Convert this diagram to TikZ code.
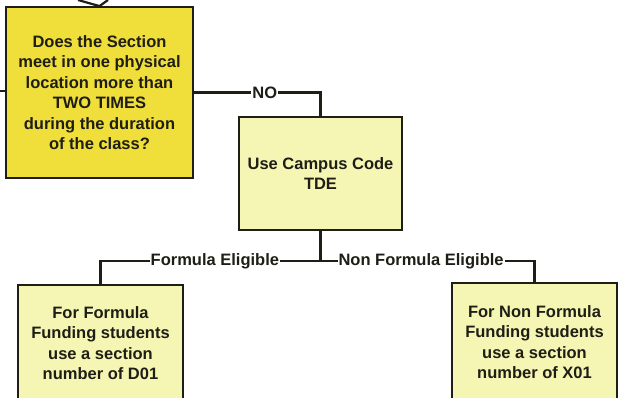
\documentclass[tikz,border=0pt]{standalone}
\usepackage{fontspec}
\setmainfont{Liberation Sans}
\definecolor{qyellow}{RGB}{240,222,58}
\definecolor{pale}{RGB}{246,246,180}
\definecolor{ink}{RGB}{30,30,22}
\tikzset{
  box/.style={draw=ink, line width=1.8pt, align=center, inner sep=2pt,
    font=\fontsize{16.5}{20.5}\selectfont\bfseries, text=ink},
  qbox/.style={box, fill=qyellow},
  abox/.style={box, fill=pale},
  conn/.style={draw=ink, line width=2.8pt},
  lbl/.style={fill=white, inner sep=1pt, font=\fontsize{16.5}{20}\selectfont\bfseries, text=ink}
}
\begin{document}
\begin{tikzpicture}[x=1pt,y=-1pt]
\useasboundingbox (0,0) rectangle (621,398);
\fill[white] (0,0) rectangle (621,398);
\begin{scope}
\clip (0,0) rectangle (621,398);
\node[qbox, minimum width=187pt, minimum height=171pt] (q) at (99.5,92.5)
  {Does the Section\\meet in one physical\\location more than\\TWO TIMES\\during the duration\\of the class?};
\node[abox, minimum width=163pt, minimum height=113pt] (tde) at (320.5,173.5)
  {Use Campus Code\\TDE};
\node[abox, minimum width=165pt, minimum height=116pt] (d01) at (100.5,343)
  {For Formula\\Funding students\\use a section\\number of D01};
\node[abox, minimum width=165pt, minimum height=118pt] (x01) at (534.5,342)
  {For Non Formula\\Funding students\\use a section\\number of X01};
\coordinate (inA) at (78,0);
\coordinate (inB) at (108,0);
\coordinate (lin) at (0,91);
\coordinate (split) at (320.5,261);
\draw[draw=ink, line width=2.2pt] (inA) -- (q.north) -- (inB);
\draw[conn] (lin) -- (lin -| q.west);
\draw[conn] (q.east) -| node[lbl, pos=0.28] {NO} (tde.north);
\draw[conn] (tde.south) -- (split);
\draw[conn] (split) -| node[lbl, pos=0.24] {Formula Eligible} (d01.north);
\draw[conn] (split) -| node[lbl, pos=0.235] {Non Formula Eligible} (x01.north);
\end{scope}
\end{tikzpicture}
\end{document}
